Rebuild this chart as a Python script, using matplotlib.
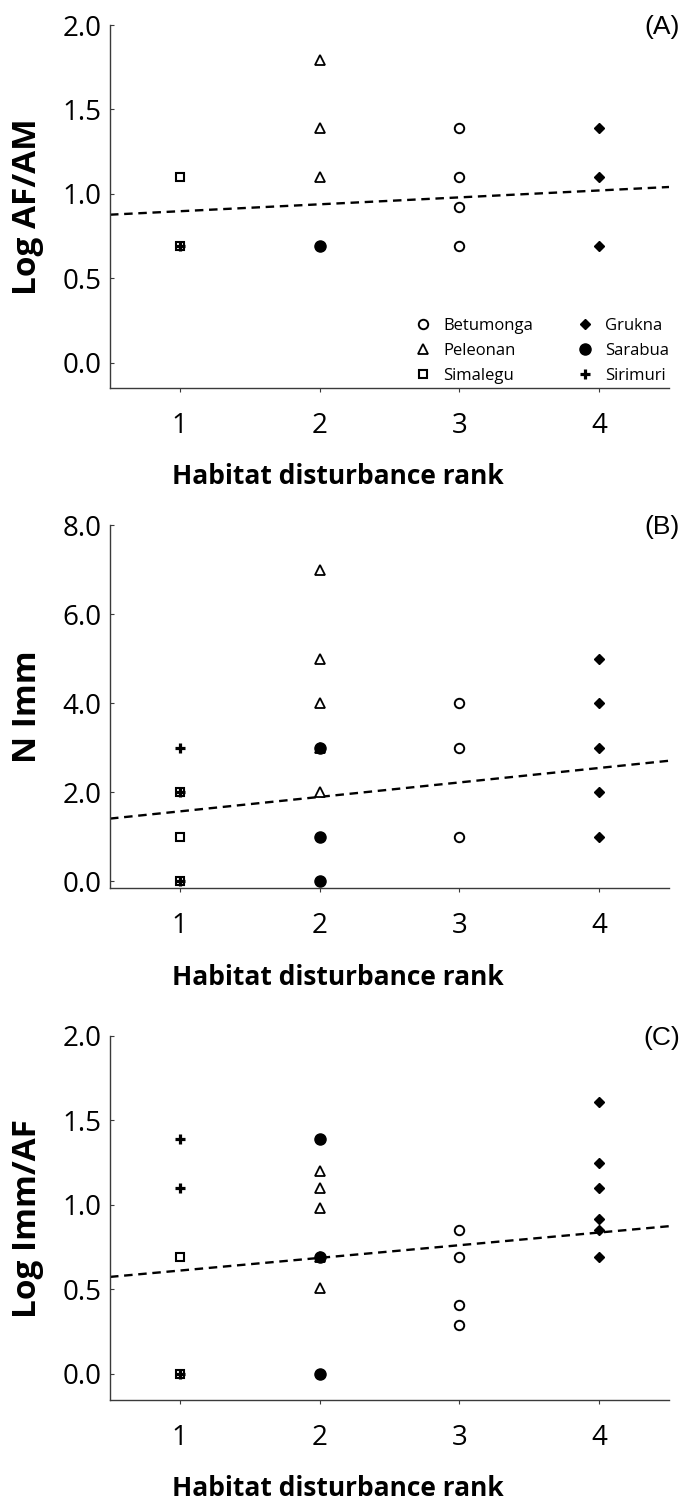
import matplotlib
matplotlib.use("Agg")
import matplotlib.pyplot as plt
from matplotlib.lines import Line2D
import numpy as np

# sites and their habitat disturbance rank
sites = ["Betumonga", "Peleonan", "Simalegu", "Grukna", "Sarabua", "Sirimuri"]
site_rank = [3, 2, 1, 4, 2, 1]

# (A) log ratio adult females / adult males, one list per site
log_af_am = [
    [1.39, 1.10, 0.92, 0.69],
    [1.79, 1.39, 1.10],
    [1.10, 0.69],
    [1.39, 1.10, 0.69],
    [0.69],
    [0.69],
]
# (B) number of immatures
n_imm = [
    [4, 3, 1],
    [7, 5, 4, 3, 2],
    [2, 1, 0],
    [5, 4, 3, 2, 1],
    [3, 1, 0],
    [3, 2, 0],
]
# (C) log ratio immatures / adult females
log_imm_af = [
    [0.85, 0.69, 0.41, 0.29],
    [1.20, 1.10, 0.98, 0.69, 0.51],
    [0.69, 0.0],
    [1.61, 1.25, 1.10, 0.92, 0.85, 0.69],
    [1.39, 0.69, 0.0],
    [1.39, 1.10, 0.0],
]

# fitted trend lines (intercept, slope) per panel
trend_intercept = [0.856, 1.24, 0.537]
trend_slope = [0.041, 0.325, 0.075]

panel_tags = ["(A)", "(B)", "(C)"]
y_labels = ["Log AF/AM", "N Imm", "Log Imm/AF"]
y_ticks = [np.arange(0, 2.01, 0.5), np.arange(0, 8.01, 2.0), np.arange(0, 2.01, 0.5)]
rank_ticks = [1, 2, 3, 4]

# marker style per site
site_style = {
    "Betumonga": dict(marker="o", ms=6.8, mfc="white", mec="black", mew=1.4),
    "Peleonan": dict(marker="^", ms=6.5, mfc="white", mec="black", mew=1.3),
    "Simalegu": dict(marker="s", ms=6.3, mfc="white", mec="black", mew=1.5),
    "Grukna": dict(marker="D", ms=5.4, mfc="black", mec="black", mew=1.0),
    "Sarabua": dict(marker="o", ms=8.0, mfc="black", mec="black", mew=1.0),
    "Sirimuri": dict(marker="+", ms=7.5, mfc="black", mec="black", mew=2.3),
}

W, H = 689, 1504
ax_left, ax_right = 110, 669
# pixel top, pixel bottom and lower y limit of each panel
ax_spans = [(25, 388, -0.150), (525, 888, -0.157), (1036, 1400, -0.154)]

plt.rcParams["font.family"] = ["Open Sans", "DejaVu Sans"]

fig = plt.figure(figsize=(W / 100, H / 100), dpi=100)
fig.patch.set_facecolor("white")

panels = [log_af_am, n_imm, log_imm_af]
for p, values in enumerate(panels):
    top, bottom, ymin = ax_spans[p]
    height = bottom - top
    ax = fig.add_axes([ax_left / W, 1 - bottom / H,
                       (ax_right - ax_left) / W, height / H])

    for site, rank, vals in zip(sites, site_rank, values):
        ax.plot([rank] * len(vals), vals, ls="none", zorder=3,
                **site_style[site])

    xs = np.array([0.5, 4.5])
    ax.plot(xs, trend_intercept[p] + trend_slope[p] * xs, color="black",
            lw=1.7, ls=(0, (3.6, 2.4)), zorder=2)

    ax.set_xlim(0.5, 4.5)
    ax.set_ylim(ymin, y_ticks[p][-1])
    ax.set_xticks(rank_ticks)
    ax.set_yticks(y_ticks[p])
    ax.set_yticklabels([f"{v:.1f}" for v in y_ticks[p]])

    for side in ["top", "right"]:
        ax.spines[side].set_visible(False)
    for side in ["left", "bottom"]:
        ax.spines[side].set_color("#3a3a3a")
        ax.spines[side].set_linewidth(1.0)

    ax.tick_params(axis="y", direction="in", length=3, width=0.8,
                   color="#3a3a3a", labelsize=20, pad=6)
    ax.tick_params(axis="x", direction="out", length=3, width=0.8,
                   color="#3a3a3a", labelsize=20, pad=14)

    ax.set_xlabel("Habitat disturbance rank", fontsize=19, fontweight="bold")
    ax.xaxis.set_label_coords((338 - ax_left) / (ax_right - ax_left),
                              -89 / height)
    ax.xaxis.label.set_va("center")

    ax.set_ylabel(y_labels[p], fontsize=24, fontweight="bold")
    ax.yaxis.set_label_coords((28 - ax_left) / (ax_right - ax_left), 0.5)
    ax.yaxis.label.set_va("center")

    fig.text(662 / W, 1 - (top + 2) / H, panel_tags[p], fontsize=19,
             family=["Liberation Sans", "DejaVu Sans"],
             ha="center", va="center")

    if p == 0:
        handles = [Line2D([], [], ls="none", **site_style[s]) for s in sites]
        ax.legend(handles, sites, ncol=2, frameon=False, fontsize=12,
                  loc="lower right", bbox_to_anchor=(1.012, -0.007),
                  handlelength=1.0, handletextpad=0.7, columnspacing=2.6,
                  labelspacing=0.55, borderaxespad=0.0)

fig.savefig("out.png", dpi=100, facecolor="white")
